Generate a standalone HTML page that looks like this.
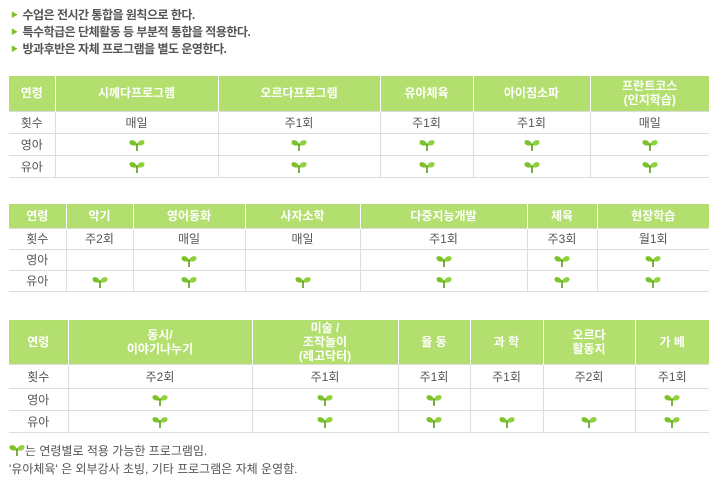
<!DOCTYPE html>
<html><head><meta charset="utf-8"><style>
body{margin:0;width:716px;height:486px;background:#fff;font-family:"Liberation Sans","Noto Sans CJK KR","NanumGothic",sans-serif;overflow:hidden;position:relative}
.b{position:absolute;left:11px;font-size:12px;color:#555;font-weight:bold;letter-spacing:-0.5px}
.b span{color:#7fbf2a;font-size:7px;margin-right:5px;vertical-align:2px}
table{position:absolute;left:9px;border-collapse:collapse;table-layout:fixed;font-size:12px;color:#555}
th{background:#b3df6f;color:#fff;font-weight:bold;border-left:1px solid #fff;font-size:12px;line-height:14px;padding:0;text-align:center}
th:first-child{border-left:none}
td{border-top:1px solid #ddd;border-left:1px solid #ddd;text-align:center;padding:0}
td:first-child{border-left:none}
tr:last-child td{border-bottom:1px solid #ddd}
.s{display:inline-block;width:16px;height:13px;vertical-align:middle}
.f{position:absolute;left:9px;font-size:12px;color:#555}
</style></head><body>
<svg width="0" height="0" style="position:absolute"><defs><g id="sp"><path d="M8 7 C7 1 0 1 0.5 4.5 C1 8 6 8 8 7Z" fill="#7cc22a"/><path d="M8 7 C9 1 16 1 15.5 4.5 C15 8 10 8 8 7Z" fill="#8fd13a"/><rect x="7.2" y="5.5" width="1.6" height="7.5" fill="#5a9a1a"/></g></defs></svg>
<div class="b" style="top:6px"><span>▶</span>수업은 전시간 통합을 원칙으로 한다.</div>
<div class="b" style="top:23px"><span>▶</span>특수학급은 단체활동 등 부분적 통합을 적용한다.</div>
<div class="b" style="top:40px"><span>▶</span>방과후반은 자체 프로그램을 별도 운영한다.</div>

<table style="top:76px;width:700px">
<colgroup><col style="width:46px"><col style="width:163px"><col style="width:162px"><col style="width:93px"><col style="width:117px"><col style="width:119px"></colgroup>
<tr style="height:35px"><th>연령</th><th>시께다프로그램</th><th>오르다프로그램</th><th>유아체육</th><th>아이짐소파</th><th>프란트코스<br>(인지학습)</th></tr>
<tr style="height:22px"><td>횟수</td><td>매일</td><td>주1회</td><td>주1회</td><td>주1회</td><td>매일</td></tr>
<tr style="height:22px"><td>영아</td><td><svg class="s"><use href="#sp"/></svg></td><td><svg class="s"><use href="#sp"/></svg></td><td><svg class="s"><use href="#sp"/></svg></td><td><svg class="s"><use href="#sp"/></svg></td><td><svg class="s"><use href="#sp"/></svg></td></tr>
<tr style="height:22px"><td>유아</td><td><svg class="s"><use href="#sp"/></svg></td><td><svg class="s"><use href="#sp"/></svg></td><td><svg class="s"><use href="#sp"/></svg></td><td><svg class="s"><use href="#sp"/></svg></td><td><svg class="s"><use href="#sp"/></svg></td></tr>
</table>

<table style="top:204px;width:700px">
<colgroup><col style="width:57px"><col style="width:67px"><col style="width:112px"><col style="width:115px"><col style="width:167px"><col style="width:70px"><col style="width:112px"></colgroup>
<tr style="height:24px"><th>연령</th><th>악기</th><th>영어동화</th><th>사자소학</th><th>다중지능개발</th><th>체육</th><th>현장학습</th></tr>
<tr style="height:21px"><td>횟수</td><td>주2회</td><td>매일</td><td>매일</td><td>주1회</td><td>주3회</td><td>월1회</td></tr>
<tr style="height:21px"><td>영아</td><td></td><td><svg class="s"><use href="#sp"/></svg></td><td></td><td><svg class="s"><use href="#sp"/></svg></td><td><svg class="s"><use href="#sp"/></svg></td><td><svg class="s"><use href="#sp"/></svg></td></tr>
<tr style="height:21px"><td>유아</td><td><svg class="s"><use href="#sp"/></svg></td><td><svg class="s"><use href="#sp"/></svg></td><td><svg class="s"><use href="#sp"/></svg></td><td><svg class="s"><use href="#sp"/></svg></td><td><svg class="s"><use href="#sp"/></svg></td><td><svg class="s"><use href="#sp"/></svg></td></tr>
</table>

<table style="top:320px;width:700px">
<colgroup><col style="width:59px"><col style="width:184px"><col style="width:146px"><col style="width:72px"><col style="width:73px"><col style="width:92px"><col style="width:74px"></colgroup>
<tr style="height:44px"><th>연령</th><th>동시/<br>이야기나누기</th><th>미술 /<br>조작놀이<br>(레고닥터)</th><th>율 동</th><th>과 학</th><th>오르다<br>활동지</th><th>가 베</th></tr>
<tr style="height:24px"><td>횟수</td><td>주2회</td><td>주1회</td><td>주1회</td><td>주1회</td><td>주2회</td><td>주1회</td></tr>
<tr style="height:22px"><td>영아</td><td><svg class="s"><use href="#sp"/></svg></td><td><svg class="s"><use href="#sp"/></svg></td><td><svg class="s"><use href="#sp"/></svg></td><td></td><td></td><td><svg class="s"><use href="#sp"/></svg></td></tr>
<tr style="height:22px"><td>유아</td><td><svg class="s"><use href="#sp"/></svg></td><td><svg class="s"><use href="#sp"/></svg></td><td><svg class="s"><use href="#sp"/></svg></td><td><svg class="s"><use href="#sp"/></svg></td><td><svg class="s"><use href="#sp"/></svg></td><td><svg class="s"><use href="#sp"/></svg></td></tr>
</table>

<div class="f" style="top:442px"><svg class="s" style="vertical-align:-1px"><use href="#sp"/></svg>는 연령별로 적용 가능한 프로그램임.</div>
<div class="f" style="top:460px">'유아체육' 은 외부강사 초빙, 기타 프로그램은 자체 운영함.</div>
</body></html>
